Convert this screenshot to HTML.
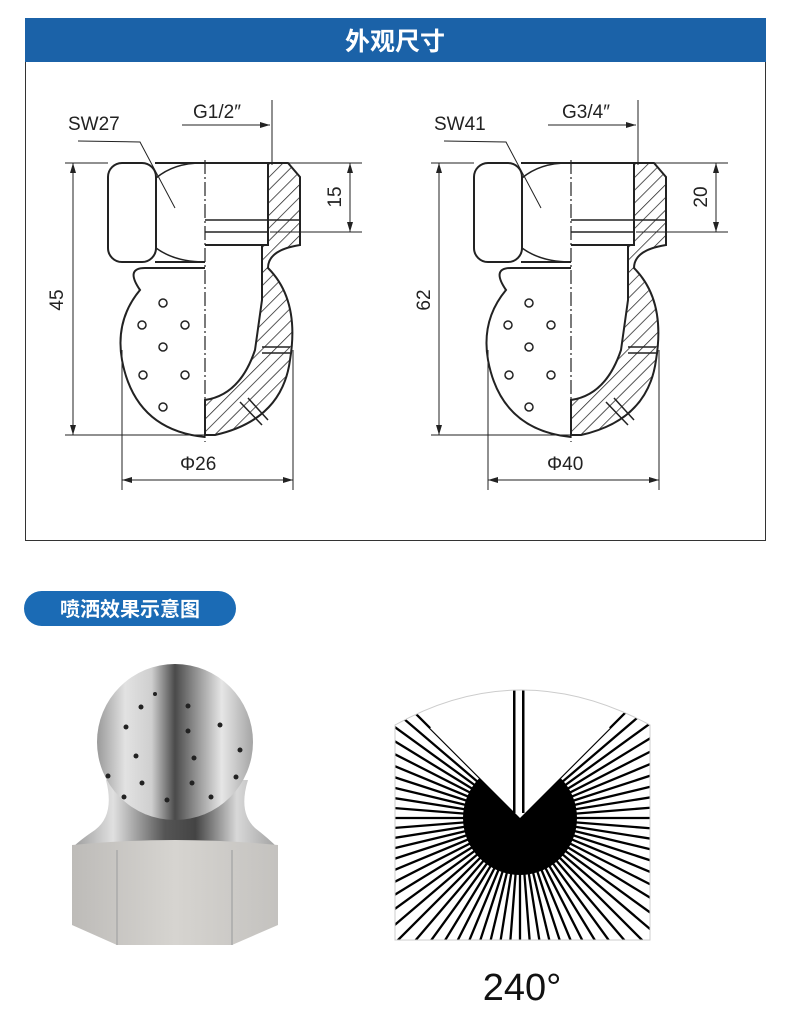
<!DOCTYPE html>
<html><head><meta charset="utf-8"><style>
html,body{margin:0;width:790px;height:1019px;background:#fff;overflow:hidden;font-family:"Liberation Sans","Noto Sans CJK SC",sans-serif}
svg{display:block;position:absolute;left:0;top:0}
</style></head><body>
<svg width="790" height="1019" viewBox="0 0 790 1019" xmlns="http://www.w3.org/2000/svg" font-family="Liberation Sans, Noto Sans CJK SC, sans-serif">
<defs>
<marker id="ar" markerWidth="10" markerHeight="6" refX="10" refY="3" orient="auto-start-reverse"><path d="M0,0L10,3L0,6z" fill="#222"/></marker>
<pattern id="hatch" width="9" height="9" patternUnits="userSpaceOnUse" patternTransform="rotate(45)"><rect width="9" height="9" fill="#fff"/><line x1="0" y1="0" x2="0" y2="9" stroke="#222" stroke-width="1.5"/></pattern>
<linearGradient id="ball" x1="0" x2="1"><stop offset="0" stop-color="#9a9a9a"/><stop offset=".18" stop-color="#e2e2e2"/><stop offset=".35" stop-color="#cfcfcf"/><stop offset=".5" stop-color="#4a4a4a"/><stop offset=".62" stop-color="#8a8a8a"/><stop offset=".8" stop-color="#e6e6e6"/><stop offset="1" stop-color="#a5a5a5"/></linearGradient>
<linearGradient id="neck" x1="0" x2="1"><stop offset="0" stop-color="#9a9a9a"/><stop offset=".2" stop-color="#e0e0e0"/><stop offset=".45" stop-color="#555"/><stop offset=".6" stop-color="#444"/><stop offset=".8" stop-color="#d8d8d8"/><stop offset="1" stop-color="#a0a0a0"/></linearGradient>
<linearGradient id="face" x1="0" x2="1"><stop offset="0" stop-color="#bdbbb8"/><stop offset=".5" stop-color="#d6d4d0"/><stop offset="1" stop-color="#c4c2bf"/></linearGradient>
<g id="draw" fill="none" stroke="#222" stroke-width="2">
<path d="M155,163 L268,163 L268,245 L205,245 M205,262 L155,262"/>
<rect x="108" y="163" width="48" height="99" rx="14"/>
<path d="M156,178 Q175,162 205,163" stroke-width="1.5"/>
<path d="M156,248 Q175,262 205,262" stroke-width="1.5"/>
<path d="M268,163 L288,163 L300,177 L300,245 Q268,250 268,268 Q300,300 290,360 Q282,420 215,435 L205,435 L205,400 Q240,395 255,350 L262,300 L262,245 L268,245 Z" fill="url(#hatch)"/>
<path d="M262,347 L290,347 M262,353 L290,353 M240,402 L262,425 M248,398 L268,420" stroke-width="1.5"/>
<path d="M205,268 L145,268 Q125,268 140,290 Q115,320 122,360 Q135,430 205,437" />
<path d="M205,220 L300,220 M205,232 L268,232" stroke-width="1.5"/>
<line x1="205" y1="160" x2="205" y2="442" stroke-width="1.2" stroke-dasharray="14,3,2,3"/>
<g stroke-width="1.5"><circle cx="163" cy="303" r="4"/><circle cx="142" cy="325" r="4"/><circle cx="185" cy="325" r="4"/><circle cx="163" cy="347" r="4"/><circle cx="143" cy="375" r="4"/><circle cx="185" cy="375" r="4"/><circle cx="163" cy="407" r="4"/></g>
<g stroke-width="1"><line x1="65" y1="163" x2="108" y2="163"/><line x1="65" y1="435" x2="205" y2="435"/>
<line x1="73" y1="163" x2="73" y2="435" marker-start="url(#ar)" marker-end="url(#ar)"/>
<line x1="270" y1="163" x2="362" y2="163"/><line x1="270" y1="232" x2="362" y2="232"/>
<line x1="350" y1="163" x2="350" y2="232" marker-start="url(#ar)" marker-end="url(#ar)"/>
<line x1="182" y1="125" x2="270" y2="125" marker-end="url(#ar)"/><line x1="272" y1="100" x2="272" y2="165"/>
<line x1="122" y1="350" x2="122" y2="490"/><line x1="293" y1="350" x2="293" y2="490"/>
<line x1="122" y1="480" x2="293" y2="480" marker-start="url(#ar)" marker-end="url(#ar)"/>
<path d="M78,141 L140,142 L175,208"/></g>
</g>
</defs>
<rect x="25.5" y="18.5" width="740" height="522" fill="#fff" stroke="#333"/>
<rect x="25" y="18" width="741" height="44" fill="#1b62a8"/>
<text x="395" y="50" text-anchor="middle" fill="#fff" font-size="25" font-weight="bold">外观尺寸</text>
<use href="#draw"/>
<use href="#draw" transform="translate(366,0)"/>
<g font-size="19" fill="#222">
<text x="68" y="130">SW27</text><text x="193" y="118">G1/2″</text><text x="180" y="470">Φ26</text>
<text transform="translate(63,300) rotate(-90)" text-anchor="middle">45</text>
<text transform="translate(341,197) rotate(-90)" text-anchor="middle">15</text>
<text x="434" y="130">SW41</text><text x="562" y="118">G3/4″</text><text x="547" y="470">Φ40</text>
<text transform="translate(430,300) rotate(-90)" text-anchor="middle">62</text>
<text transform="translate(707,197) rotate(-90)" text-anchor="middle">20</text>
</g>
<rect x="24" y="591" width="212" height="35" rx="17.5" fill="#1b6bb5"/>
<text x="130" y="616" text-anchor="middle" fill="#fff" font-size="20" font-weight="bold">喷洒效果示意图</text>
<!-- nozzle photo -->
<path d="M106,780 Q115,815 95,830 Q80,840 72,848 L278,848 Q268,838 255,828 Q238,812 248,780Z" fill="url(#neck)"/>
<circle cx="175" cy="742" r="78" fill="url(#ball)"/>
<path d="M72,845 Q175,835 278,845 L278,925 L232,945 L117,945 L72,925Z" fill="url(#face)"/>
<path d="M117,850 L117,945 M232,850 L232,945" stroke="#aaa" stroke-width="1.5"/>
<g fill="#222"><circle cx="126" cy="727" r="2.5"/><circle cx="141" cy="707" r="2.5"/><circle cx="188" cy="731" r="2.5"/><circle cx="194" cy="758" r="2.5"/><circle cx="136" cy="756" r="2.5"/><circle cx="220" cy="725" r="2.5"/><circle cx="240" cy="750" r="2.5"/><circle cx="142" cy="783" r="2.5"/><circle cx="192" cy="783" r="2.5"/><circle cx="124" cy="797" r="2.5"/><circle cx="167" cy="800" r="2.5"/><circle cx="211" cy="797" r="2.5"/><circle cx="108" cy="776" r="2.5"/><circle cx="236" cy="777" r="2.5"/><circle cx="155" cy="694" r="2"/><circle cx="188" cy="706" r="2.5"/></g>
<!-- spray -->
<clipPath id="sc"><path d="M395,725 Q520,655 650,725 L650,940 L395,940Z"/></clipPath>
<g clip-path="url(#sc)"><rect x="395" y="685" width="255" height="255" fill="#fff"/><g id="rays" stroke="#000" stroke-width="2.3"></g>
<circle cx="520" cy="818" r="57" fill="#000"/>
<path d="M520,818 L430,728 L520,680 L610,728Z" fill="#fff"/>
<rect x="513" y="685" width="2.5" height="128" fill="#000"/><rect x="522" y="685" width="2.5" height="128" fill="#000"/>
</g>
<path d="M395,940 L395,725 Q520,655 650,725 L650,940 Z" fill="none" stroke="#ccc"/>
<text x="522" y="1000" text-anchor="middle" font-size="38" fill="#111">240°</text>
</svg>
<script>
var g=document.getElementById('rays'),s='';
for(var a=-45;a<=225.01;a+=4.5){var r=a*Math.PI/180;var x=520+400*Math.cos(r),y=818+400*Math.sin(r);
s+='<line x1="520" y1="818" x2="'+x.toFixed(1)+'" y2="'+y.toFixed(1)+'"/>';}
g.innerHTML=s;
</script>
</body></html>
